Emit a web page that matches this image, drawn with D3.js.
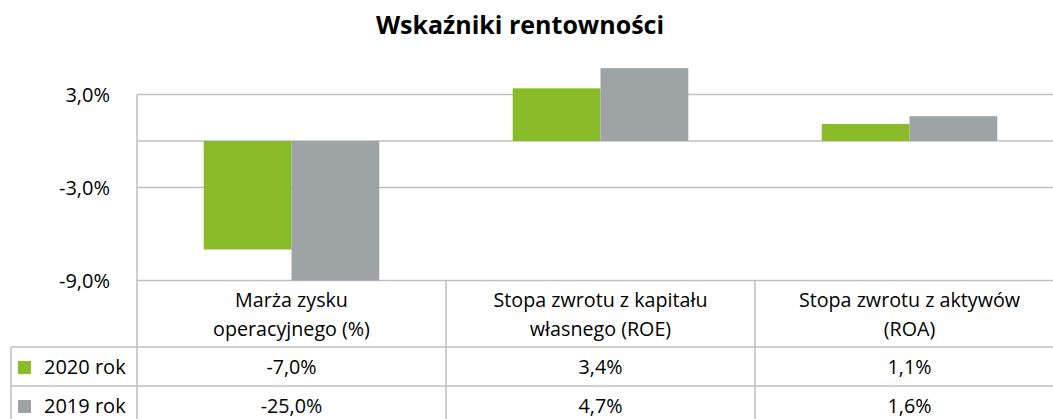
<!DOCTYPE html>
<html>
<head>
<meta charset="utf-8">
<script src="https://cdn.jsdelivr.net/npm/d3@7"></script>
<style>
  body { margin: 0; background: #fff; }
  svg { display: block; font-family: "Open Sans", sans-serif; }
</style>
</head>
<body>
<div id="chart"></div>
<script>
const categories = [
  ["Marża zysku", "operacyjnego (%)"],
  ["Stopa zwrotu z kapitału", "własnego (ROE)"],
  ["Stopa zwrotu z aktywów", "(ROA)"]
];
const seriesNames = ["2020 rok", "2019 rok"];
const values2020 = [-7.0, 3.4, 1.1];
const values2019 = [-25.0, 4.7, 1.6];
const gridValues = [3, 0, -3, -9];
const tickValues = [3, -3, -9];
const colors = ["#8abc2a", "#9ea4a5"];

const W = 1053, H = 419;
const fmt = v => (v < 0 ? "-" : "") + Math.abs(v).toFixed(1).replace(".", ",") + "%";
const series = [values2020, values2019];

const svg = d3.select("#chart").append("svg").attr("width", W).attr("height", H);

svg.append("text").text("Wskaźniki rentowności")
  .attr("x", 520).attr("y", 34).attr("text-anchor", "middle")
  .attr("font-size", 25).attr("font-weight", "bold").attr("fill", "#000");

const x = d3.scaleBand().domain(d3.range(categories.length)).range([137, 1064]);
const xs = d3.scaleBand().domain(d3.range(seriesNames.length)).range([0, x.bandwidth()]).paddingOuter(0.76);
const yMin = -9;
const y = d3.scaleLinear().domain([yMin, 3]).range([280.5, 94.5]);

const lineColor = "#bfbfbf";

// gridlines
svg.append("g").selectAll("line").data(gridValues).join("line")
  .attr("x1", 137).attr("x2", W)
  .attr("y1", d => y(d)).attr("y2", d => y(d))
  .attr("stroke", lineColor).attr("stroke-width", 1.5);

// y labels
svg.append("g").selectAll("text").data(tickValues).join("text")
  .text(fmt)
  .attr("x", 110).attr("y", d => y(d) + 7)
  .attr("text-anchor", "end").attr("font-size", 20).attr("fill", "#000");

// bars (cut at the axis minimum)
series.forEach((vals, si) => {
  svg.append("g").selectAll("rect").data(vals).join("rect")
    .attr("x", (d, i) => x(i) + xs(si))
    .attr("width", xs.bandwidth())
    .attr("y", d => Math.min(y(Math.max(d, yMin)), y(0)))
    .attr("height", d => Math.abs(y(Math.max(d, yMin)) - y(0)))
    .attr("fill", colors[si]);
});

// table
const rowTop = 280.5, headBottom = 347, row1Bottom = 386, tableLeft = 11;
const tbl = svg.append("g").attr("stroke", lineColor).attr("stroke-width", 1.5);
tbl.append("line").attr("x1", 137).attr("x2", 137).attr("y1", 94.5).attr("y2", H);
x.domain().slice(1).forEach(i => {
  tbl.append("line").attr("x1", x(i)).attr("x2", x(i)).attr("y1", rowTop).attr("y2", H);
});
tbl.append("line").attr("x1", x.range()[1]).attr("x2", x.range()[1]).attr("y1", rowTop).attr("y2", H);
[headBottom, row1Bottom].forEach(yy => {
  tbl.append("line").attr("x1", tableLeft).attr("x2", W).attr("y1", yy).attr("y2", yy);
});
tbl.append("line").attr("x1", tableLeft).attr("x2", tableLeft).attr("y1", headBottom).attr("y2", H);

// category labels
categories.forEach((lines, i) => {
  lines.forEach((t, li) => {
    svg.append("text").text(t)
      .attr("x", x(i) + x.bandwidth() / 2).attr("y", 307 + li * 29)
      .attr("text-anchor", "middle").attr("font-size", 19.7).attr("fill", "#000");
  });
});

// rows
const rowY = [374, 413];
seriesNames.forEach((name, si) => {
  svg.append("rect").attr("x", 18).attr("y", rowY[si] - 13).attr("width", 13).attr("height", 13).attr("fill", colors[si]);
  svg.append("text").text(name).attr("x", 44).attr("y", rowY[si])
    .attr("font-size", 20).attr("fill", "#000");
  series[si].forEach((v, i) => {
    svg.append("text").text(fmt(v))
      .attr("x", x(i) + x.bandwidth() / 2).attr("y", rowY[si])
      .attr("text-anchor", "middle").attr("font-size", 19.7).attr("fill", "#000");
  });
});
</script>
</body>
</html>
